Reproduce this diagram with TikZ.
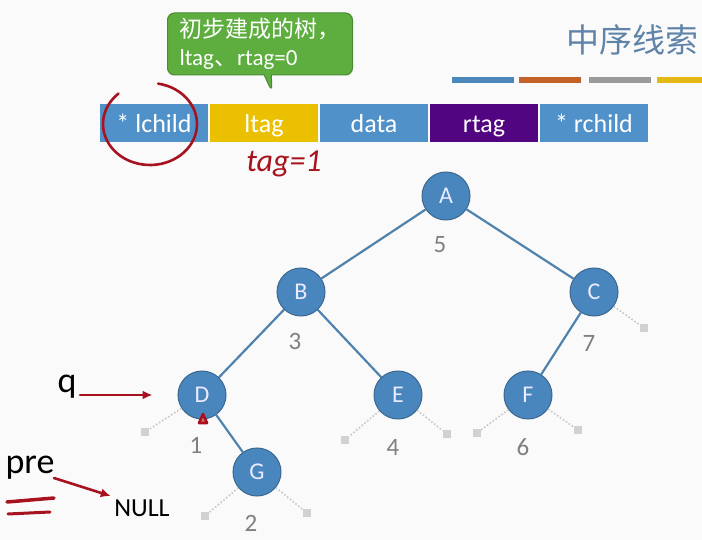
\documentclass[tikz,border=0pt]{standalone}
\usepackage{fontspec}
\setmainfont{Carlito}
\newfontfamily\cjkfont{Noto Sans CJK SC}
\usetikzlibrary{shapes.callouts,arrows.meta}
\definecolor{fieldblue}{HTML}{4F91C8}
\definecolor{fieldyellow}{HTML}{EBC000}
\definecolor{fieldpurple}{HTML}{520580}
\definecolor{nodeblue}{HTML}{4A86BE}
\definecolor{nodeline}{HTML}{3A6890}
\definecolor{edgeblue}{HTML}{4F82AD}
\definecolor{calloutgreen}{HTML}{5DAE3F}
\definecolor{calloutedge}{HTML}{4A8A33}
\definecolor{titleblue}{HTML}{5F84A8}
\definecolor{barblue}{HTML}{4B86BC}
\definecolor{barorange}{HTML}{C2632A}
\definecolor{bargray}{HTML}{9A9A9A}
\definecolor{baryellow}{HTML}{E5B913}
\definecolor{inkred}{HTML}{A8121E}
\begin{document}
\begin{tikzpicture}[
    x=1pt,y=-1pt,
    every node/.style={font=\fontsize{18}{21}\selectfont},
    field/.style={minimum width=108pt, minimum height=38pt, inner sep=0pt, text height=20pt, text depth=0pt, text=white, font=\fontsize{26}{28}\selectfont},
    tnode/.style={circle, draw=nodeline, line width=1pt, fill=nodeblue, minimum size=48pt, inner sep=0pt, text=white!92!blue, font=\fontsize{24}{26}\selectfont},
    order/.style={text=black!50, font=\fontsize{25}{27}\selectfont},
    branch/.style={draw=edgeblue, line width=2.2pt},
    nullbox/.style={fill=black!18, minimum size=8pt, inner sep=0pt},
    nullline/.style={draw=black!22, dotted, line width=1.6pt},
    ink/.style={draw=inkred, line width=2.6pt, line cap=round, line join=round},
    pointer/.style={ink, -{Latex[length=10pt,width=9pt]}}
]
    \clip (0,0) rectangle (702,540);
    \fill[black!2] (0,0) rectangle (702,540);

    \coordinate (tip) at (272,92);
    \node[rectangle callout, callout absolute pointer={(tip)}, fill=calloutgreen, draw=calloutedge, line width=1pt,
          rounded corners=7pt, minimum width=183pt, minimum height=62pt, inner xsep=12pt, align=left, text=white,
          font=\fontsize{23}{28}\selectfont] (bubble) at (260,44)
          {{\cjkfont 初步建成的树，}\\ltag{\cjkfont 、}rtag=0};

    \node[anchor=west, text=titleblue, font=\cjkfont\fontsize{33}{35}\selectfont] (title) at (563,40) {中序线索};
    \foreach \x/\col in {452/barblue,519/barorange,589/bargray,657/baryellow} {
        \fill[\col] (\x,77) rectangle ++(62,6);
    }

    \foreach \i/\lab/\col in {0/* lchild/fieldblue,1/ltag/fieldyellow,2/data/fieldblue,3/rtag/fieldpurple,4/* rchild/fieldblue} {
        \node[field, fill=\col] (f\i) at (154+110*\i,123) {\lab};
    }

    \node[tnode] (A) at (446,196) {A};
    \node[tnode] (B) at (301,292) {B};
    \node[tnode] (C) at (594,292) {C};
    \node[tnode] (D) at (202,395) {D};
    \node[tnode] (E) at (398,395) {E};
    \node[tnode] (F) at (528,395) {F};
    \node[tnode] (G) at (257,472) {G};
    \foreach \a/\b in {A/B,A/C,B/D,B/E,C/F,D/G} {
        \draw[branch] (\a) -- (\b);
    }

    \foreach \n/\x/\y/\lab in {A/440/245/5,B/295/341/3,C/589/343/7,D/196/445/1,E/393/447/4,F/523/447/6,G/251/523/2} {
        \node[order] (o\n) at (\x,\y) {\lab};
    }

    \foreach \n/\s/\x/\y in {C/r/644/328,D/l/145/432,E/l/345/440,E/r/447/434,F/l/477/433,F/r/578/430,G/l/205/516,G/r/307/513} {
        \node[nullbox] (n\n\s) at (\x,\y) {};
        \draw[nullline] (\n) -- (n\n\s);
    }

    \node[font=\fontsize{36}{38}\selectfont] (q) at (67,387) {q};
    \draw[pointer, shorten >=25pt] (q.east |- D) -- (D.west);
    \node[font=\fontsize{36}{38}\selectfont] (pre) at (30,468) {pre};
    \node[font=\fontsize{26}{28}\selectfont] (null) at (142,508) {NULL};
    \draw[pointer] (pre.east) ++(-4,10) coordinate (prefoot) (prefoot) -- (null.north west);

    \draw[ink] (150,124) ++(-80:47 and 41) arc[start angle=-80, end angle=228, x radius=47, y radius=41];
    \node[text=inkred, font=\itshape\fontsize{32}{34}\selectfont] (tag) at (284,164) {tag=1};
    \draw[ink, line width=3.5pt] (7,502) -- (54,498);
    \draw[ink, line width=3pt] (8,514) -- (50,512);
    \draw[ink, fill=inkred!60] (199,423) -- (203,414) -- (207,423) -- cycle;
\end{tikzpicture}
\end{document}
